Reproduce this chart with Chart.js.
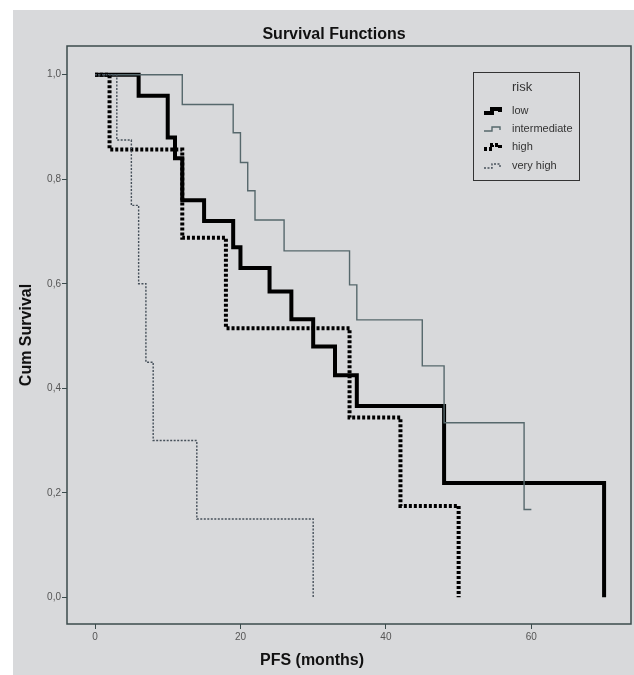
<!DOCTYPE html>
<html lang="en">
<head>
<meta charset="UTF-8">
<title>Survival Functions</title>
<style>
  html, body { margin: 0; padding: 0; background: #fff; }
</style>
<script src="https://cdn.jsdelivr.net/npm/chart.js"></script>
</head>
<body>
<canvas id="km" width="634" height="675"></canvas>
<script>
// Kaplan-Meier steps: month of each drop and the survival after it
const riskGroups = ['low', 'intermediate', 'high', 'very high'];

const lowMonths   = [0, 6, 10, 11, 12, 15, 19, 20, 24, 27, 30, 33, 36, 48, 70];
const lowSurvival = [1, 0.96, 0.88, 0.84, 0.76, 0.72, 0.67, 0.63, 0.585, 0.532, 0.48, 0.425, 0.366, 0.219, 0];

const intermediateMonths   = [0, 12, 19, 20, 21, 22, 26, 35, 36, 45, 48, 59, 60];
const intermediateSurvival = [1, 0.943, 0.889, 0.832, 0.778, 0.722, 0.663, 0.598, 0.531, 0.443, 0.334, 0.168, 0.168];

const highMonths   = [0, 2, 12, 18, 35, 42, 50];
const highSurvival = [1, 0.857, 0.688, 0.515, 0.344, 0.175, 0];

const veryHighMonths   = [0, 3, 5, 6, 7, 8, 14, 30];
const veryHighSurvival = [1, 0.875, 0.75, 0.6, 0.45, 0.3, 0.15, 0];

const xTickValues = [0, 20, 40, 60];
const yTickValues = [0, 0.2, 0.4, 0.6, 0.8, 1.0];

const FONT = "'Liberation Sans', Arial, sans-serif";
const FRAME = '#3b4b4c';

function toPoints(months, surv) {
    return months.map((m, i) => ({ x: m, y: surv[i] }));
}

const styles = [
    { color: '#000000', width: 4,   dash: [] },
    { color: '#56686c', width: 1.4, dash: [] },
    { color: '#000000', width: 4,   dash: [3, 2] },
    { color: '#46505a', width: 1.4, dash: [2, 1.5] }
];

const series = [
    toPoints(lowMonths, lowSurvival),
    toPoints(intermediateMonths, intermediateSurvival),
    toPoints(highMonths, highSurvival),
    toPoints(veryHighMonths, veryHighSurvival)
];

// draw order: thin ones first, thick on top
const datasets = riskGroups.map((name, i) => ({
    label: name,
    data: series[i],
    stepped: 'before',
    borderColor: styles[i].color,
    borderWidth: styles[i].width,
    borderDash: styles[i].dash,
    borderCapStyle: 'butt',
    borderJoinStyle: 'miter',
    pointRadius: 0,
    fill: false,
    order: i < 2 ? 4 - i : 4 - i
}));

const decorPlugin = {
    id: 'decor',
    beforeDraw(chart) {
        const ctx = chart.ctx;
        ctx.save();
        ctx.fillStyle = '#ffffff';
        ctx.fillRect(0, 0, chart.width, chart.height);
        ctx.fillStyle = '#d8d9db';
        ctx.fillRect(13, 10, chart.width - 13, chart.height - 10);
        ctx.restore();
    },
    afterDraw(chart) {
        const ctx = chart.ctx;
        const a = chart.chartArea;
        ctx.save();
        // frame
        ctx.strokeStyle = FRAME;
        ctx.lineWidth = 1.5;
        ctx.strokeRect(a.left, a.top, a.right - a.left, a.bottom - a.top);

        // titles
        ctx.fillStyle = '#111';
        ctx.font = 'bold 16px ' + FONT;
        ctx.textAlign = 'center';
        ctx.textBaseline = 'alphabetic';
        ctx.fillText('Survival Functions', 334, 39);
        ctx.fillText('PFS (months)', 312, 665);
        ctx.save();
        ctx.translate(31, 335);
        ctx.rotate(-Math.PI / 2);
        ctx.fillText('Cum Survival', 0, 0);
        ctx.restore();

        // legend box
        const bx = 473, by = 72, bw = 106, bh = 108;
        ctx.strokeStyle = '#333';
        ctx.lineWidth = 1;
        ctx.strokeRect(bx + 0.5, by + 0.5, bw, bh);
        ctx.fillStyle = '#333';
        ctx.textAlign = 'left';
        ctx.textBaseline = 'middle';
        ctx.font = '13px ' + FONT;
        ctx.fillText('risk', 512, 87);
        ctx.font = '11px ' + FONT;
        const rows = [111, 129, 147, 166];
        chart.data.datasets.forEach((ds, i) => {
            const y = rows[i];
            ctx.fillStyle = '#333';
            ctx.fillText(ds.label, 512, y);
            ctx.strokeStyle = ds.borderColor;
            ctx.lineWidth = ds.borderWidth;
            ctx.setLineDash(ds.borderDash);
            ctx.beginPath();
            ctx.moveTo(484, y + 2);
            ctx.lineTo(492, y + 2);
            ctx.lineTo(492, y - 2);
            ctx.lineTo(500, y - 2);
            ctx.lineTo(500, y + 1);
            ctx.stroke();
            ctx.setLineDash([]);
        });
        ctx.restore();
    }
};

new Chart(document.getElementById('km'), {
    type: 'line',
    data: { datasets: datasets },
    options: {
        responsive: false,
        animation: false,
        layout: { padding: { top: 46, right: 3, bottom: 0, left: 0 } },
        plugins: {
            legend: { display: false },
            tooltip: { enabled: false }
        },
        scales: {
            x: {
                type: 'linear',
                min: -3.85,
                max: 73.7,
                afterBuildTicks: axis => { axis.ticks = xTickValues.map(v => ({ value: v })); },
                afterFit: axis => { axis.height = 51; },
                grid: { drawOnChartArea: false, drawTicks: true, tickLength: 5, color: FRAME },
                border: { display: false },
                ticks: { font: { size: 10, family: FONT }, color: '#555', padding: 2, maxRotation: 0 }
            },
            y: {
                type: 'linear',
                min: -0.051,
                max: 1.055,
                afterBuildTicks: axis => { axis.ticks = yTickValues.map(v => ({ value: v })); },
                afterFit: axis => { axis.width = 67; },
                grid: { drawOnChartArea: false, drawTicks: true, tickLength: 5, color: FRAME },
                border: { display: false },
                ticks: {
                    font: { size: 10, family: FONT },
                    color: '#555',
                    padding: 1,
                    callback: v => v.toFixed(1).replace('.', ',')
                }
            }
        }
    },
    plugins: [decorPlugin]
});
</script>
</body>
</html>
